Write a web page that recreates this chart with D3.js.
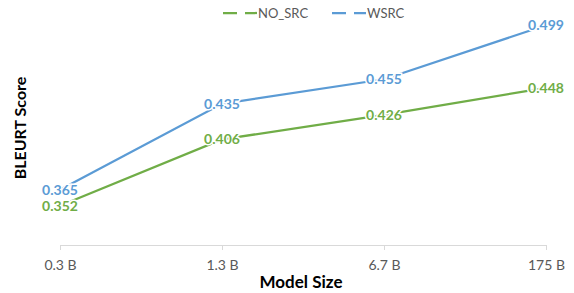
<!DOCTYPE html>
<html>
<head>
<meta charset="utf-8">
<script src="https://cdn.jsdelivr.net/npm/d3@7"></script>
<style>
  body { margin: 0; background: #fff; }
  svg { display: block; font-family: Lato, "Open Sans", sans-serif; }
</style>
</head>
<body>
<script>
const modelSizes = ["0.3 B", "1.3 B", "6.7 B", "175 B"];
const noSrc = [0.352, 0.406, 0.426, 0.448];
const wSrc = [0.365, 0.435, 0.455, 0.499];
const seriesNames = ["NO_SRC", "WSRC"];
const colors = ["#70ad47", "#5b9bd5"];

const width = 574, height = 293;
const margin = {top: 24, right: 28, bottom: 48, left: 60};

const svg = d3.select("body").append("svg")
  .attr("width", width)
  .attr("height", height);

const x = d3.scalePoint()
  .domain(modelSizes)
  .range([margin.left, width - margin.right]);

const y = d3.scaleLinear()
  .domain([0.32, 0.50])
  .range([height - margin.bottom, margin.top]);

// x axis
const xAxis = d3.axisBottom(x).tickSize(5).tickPadding(10);
const xAxisG = svg.append("g")
  .attr("transform", `translate(0,${height - margin.bottom})`)
  .call(xAxis);
xAxisG.select(".domain").attr("stroke", "#d9d9d9").attr("d", `M${margin.left},0.5H${width - margin.right}`);
xAxisG.selectAll(".tick line").attr("stroke", "#d9d9d9");
xAxisG.selectAll(".tick text")
  .attr("fill", "#595959")
  .style("font-size", "14px")
  .style("font-family", "Lato, sans-serif");

// axis titles
svg.append("text")
  .attr("text-anchor", "middle")
  .attr("x", 301)
  .attr("y", 288)
  .style("font-size", "17px")
  .style("font-weight", "bold")
  .text("Model Size");

svg.append("text")
  .attr("text-anchor", "middle")
  .attr("transform", `translate(26,128)rotate(-90)`)
  .style("font-size", "16px")
  .style("font-weight", "bold")
  .text("BLEURT Score");

const series = [noSrc, wSrc];
const line = d3.line()
  .x((d, i) => x(modelSizes[i]))
  .y(d => y(d));

series.forEach((vals, s) => {
  svg.append("path")
    .datum(vals)
    .attr("fill", "none")
    .attr("stroke", colors[s])
    .attr("stroke-width", 2.25)
    .attr("d", line);
});

series.forEach((vals, s) => {
  svg.selectAll(".lbl" + s)
    .data(vals)
    .enter()
    .append("text")
    .attr("class", "lbl" + s)
    .attr("x", (d, i) => x(modelSizes[i]))
    .attr("y", d => y(d))
    .attr("dy", "0.35em")
    .attr("text-anchor", "middle")
    .attr("fill", colors[s])
    .attr("stroke", "#fff")
    .attr("stroke-width", 3)
    .attr("paint-order", "stroke")
    .style("font-size", "14px")
    .style("font-weight", "bold")
    .text(d => d3.format(".3f")(d));
});

// legend
const legendX = [223, 332];
seriesNames.forEach((name, s) => {
  const g = svg.append("g").attr("transform", `translate(${legendX[s]},13)`);
  g.append("line")
    .attr("x1", 0).attr("x2", 34)
    .attr("stroke", colors[s])
    .attr("stroke-width", 2.25)
    .attr("stroke-dasharray", "14,8");
  g.append("text")
    .attr("x", 35)
    .attr("dy", "0.35em")
    .attr("fill", "#595959")
    .style("font-size", "13px")
    .text(name);
});
</script>
</body>
</html>
